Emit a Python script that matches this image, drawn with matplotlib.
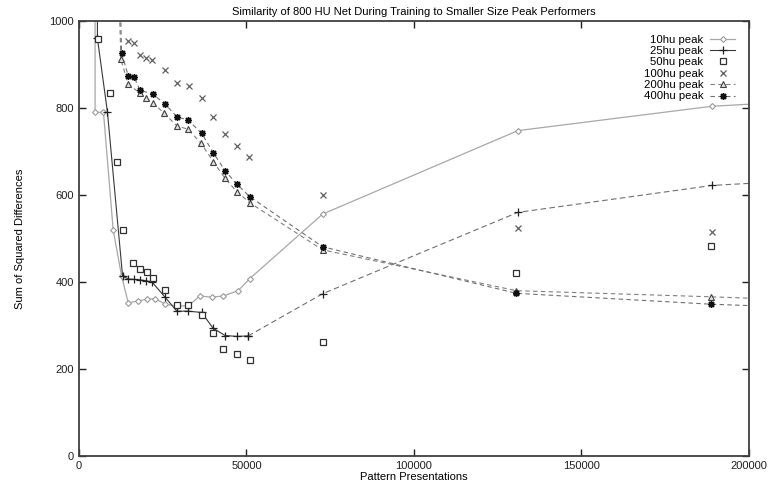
import matplotlib.pyplot as plt

# pattern presentations / sum of squared differences for each peak performer
x_10hu = [4800, 4800, 7300, 10200, 12700, 14700, 17700, 20200, 22700, 25700, 29200, 32600,
          36100, 39600, 43100, 47500, 51000, 72700, 131000, 189000, 203000]
y_10hu = [1500, 790, 790, 520, 414, 352, 357, 360, 362, 349, 345, 345,
          368, 365, 368, 380, 408, 556, 748, 804, 810]

x_25hu = [5500, 5500, 8500, 13000, 14700, 16400, 18200, 20000, 21800, 25700, 29200, 32600,
          36600, 40000, 43600, 47100, 50500, 72700, 131000, 189000, 203000]
y_25hu = [1500, 960, 790, 414, 407, 406, 405, 403, 400, 365, 333, 333,
          330, 294, 277, 275, 276, 373, 560, 622, 628]

x_50hu = [5800, 9250, 11250, 13200, 16200, 18200, 20200, 22200, 25700, 29200, 32600,
          36600, 40100, 43100, 47100, 50900, 72700, 130600, 188800]
y_50hu = [958, 834, 677, 520, 443, 431, 424, 410, 382, 347, 347,
          324, 282, 247, 234, 221, 263, 421, 483]

x_100hu = [14700, 16400, 18200, 20000, 21700, 25700, 29200, 32800, 36600, 40100, 43600,
           47100, 50800, 72700, 131000, 189000]
y_100hu = [953, 949, 922, 914, 910, 887, 858, 851, 822, 780, 740,
           713, 688, 600, 524, 515]

x_200hu = [11800, 12500, 14700, 18200, 20000, 22000, 25400, 29200, 32600, 36300, 40100,
           43600, 47100, 51000, 72700, 130600, 188600, 203000]
y_200hu = [1100, 912, 855, 834, 822, 812, 788, 759, 751, 720, 677,
           638, 608, 582, 474, 380, 366, 362]

x_400hu = [12200, 12700, 14700, 16400, 18200, 22000, 25700, 29200, 32600, 36600, 40100,
           43600, 47100, 51000, 72700, 130600, 188600, 203000]
y_400hu = [1100, 927, 874, 872, 841, 832, 809, 780, 772, 742, 697,
           656, 625, 596, 481, 374, 349, 345]

plt.rcParams['font.family'] = ['Liberation Sans', 'DejaVu Sans']

fig = plt.figure(figsize=(7.7, 4.86), dpi=100)
ax = fig.add_axes([0.1026, 0.0617, 0.8701, 0.8951])

ax.plot(x_10hu, y_10hu, '-', color='#a8a8a8', lw=0.9, marker='D', ms=3,
        mfc='white', mec='#9a9a9a', mew=0.8, label='10hu peak')
# 25hu: solid early on, the later stretch prints as a broken line
n = 17
ax.plot(x_25hu[:n], y_25hu[:n], '-', color='#383838', lw=0.8, marker='+', ms=6,
        mec='#202020', mew=0.9, label='25hu peak')
ax.plot(x_25hu[n - 1:], y_25hu[n - 1:], ls=(0, (5, 3)), color='#707070', lw=0.8,
        marker='+', ms=6, mec='#202020', mew=0.9)
ax.plot(x_50hu, y_50hu, ls='none', marker='s', ms=5, mfc='white',
        mec='#303030', mew=0.9, label='50hu peak')
ax.plot(x_100hu, y_100hu, ls='none', marker='x', ms=5, mec='#606060',
        mew=0.9, label='100hu peak')
ax.plot(x_200hu, y_200hu, ls=(0, (4, 3)), color='#808080', lw=0.8, marker='^',
        ms=4.5, mfc='#e0e0e0', mec='#404040', mew=0.8, label='200hu peak')
ax.plot(x_400hu, y_400hu, ls=(0, (4, 3)), color='#707070', lw=0.8, marker=(8, 2, 0),
        ms=5, mec='#101010', mew=1.0, label='400hu peak')

ax.set_xlim(0, 200000)
ax.set_ylim(0, 1000)
ax.set_xticks([0, 50000, 100000, 150000, 200000])
ax.set_yticks([0, 200, 400, 600, 800, 1000])
ax.tick_params(direction='in', length=5, width=1, top=True, right=True,
               labelsize=8, colors='#202020')
for s in ax.spines.values():
    s.set_linewidth(1.3)
    s.set_color('#404040')

ax.set_title('Similarity of 800 HU Net During Training to Smaller Size Peak Performers',
             fontsize=8, pad=4)
ax.set_xlabel('Pattern Presentations', fontsize=8, labelpad=1)
ax.set_ylabel('Sum of Squared Differences', fontsize=8, labelpad=18)

ax.legend(loc='upper right', frameon=False, markerfirst=False, fontsize=8.2,
          handlelength=2.2, labelspacing=0.12, borderaxespad=0.8, handletextpad=0.6)

fig.savefig('out.png', dpi=100)
